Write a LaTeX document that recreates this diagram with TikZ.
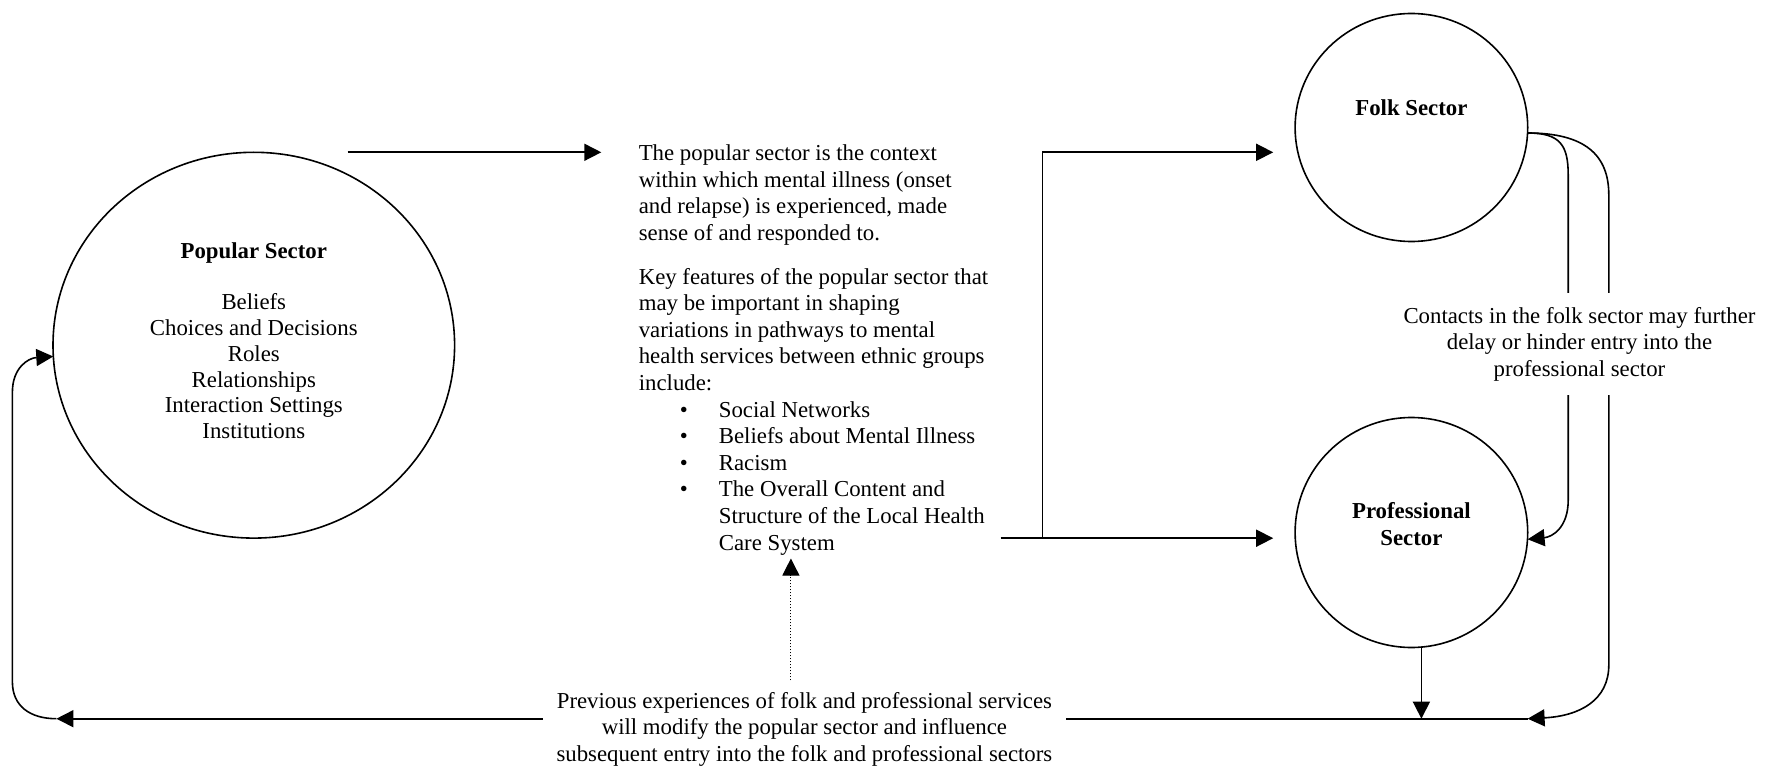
\documentclass[tikz,border=0pt]{standalone}
\usepackage{fontspec}
\setmainfont{Liberation Serif}
\usetikzlibrary{arrows.meta,shapes.geometric}

\newcommand{\bulletitem}{\makebox[80.1pt][l]{\hspace*{41pt}\textbullet}}
\newcommand{\bodysize}{\fontsize{22.8pt}{26.6pt}\selectfont}

\begin{document}
\begin{tikzpicture}[x=1pt,y=-1pt,
  sector/.style={draw, ellipse, line width=1.6pt, inner sep=0pt},
  conn/.style={line width=1.6pt},
  arr/.style={conn, -{Triangle[length=17pt,width=17pt]}},
  txt/.style={font=\bodysize, inner sep=0pt},
  title/.style={font=\bodysize\bfseries, inner sep=0pt, align=center}]

\useasboundingbox (0,0) rectangle (1769,767);
\fill[white] (0,0) rectangle (1769,767);

% the three sectors
\node[sector, minimum width=401.6pt, minimum height=385.8pt] (popular) at (253.8,345.2) {};
\node[sector, minimum width=232.6pt, minimum height=228pt] (folk) at (1411.4,127.5) {};
\node[sector, minimum width=232.6pt, minimum height=230pt] (professional) at (1411.4,532.5) {};

% multi-line texts are placed by the baseline of their last line
\node[txt, font=\fontsize{22.8pt}{25.7pt}\selectfont, align=center, anchor=base] (poptext) at (253.8,438.4)
  {\textbf{Popular Sector}\\[25.9pt]Beliefs\\Choices and Decisions\\Roles\\Relationships\\Interaction Settings\\Institutions};
\node[title, anchor=base] (folktitle) at (1411.4,115.8) {Folk Sector};
\node[title, anchor=base] (proftitle) at (1411.4,545.5) {Professional\\[0.4pt]Sector};

% description of the popular sector
\node[txt, align=left, anchor=base west] (context) at (638.6,550.1)
  {The popular sector is the context\\
   within which mental illness (onset\\
   and relapse) is experienced, made\\
   sense of and responded to.\\[17.3pt]
   Key features of the popular sector that\\
   may be important in shaping\\
   variations in pathways to mental\\
   health services between ethnic groups\\
   include:\\
   \bulletitem Social Networks\\
   \bulletitem Beliefs about Mental Illness\\
   \bulletitem Racism\\
   \bulletitem The Overall Content and\\
   \hspace*{80.1pt}Structure of the Local Health\\
   \hspace*{80.1pt}Care System};

% connector end points
\coordinate (popout) at (347.5,152.3);
\coordinate (ctxin) at (601.3,152.3);
\coordinate (ctxout) at (1000.7,538.2);
\coordinate (branch) at (1042.5,538.2);
\coordinate (folkin) at (1295.2,152.3);
\coordinate (profin) at (1295.2,538.2);
\coordinate (folkout) at (1527.6,133);
\coordinate (joint) at (1527.6,718.7);
\coordinate (loopend) at (56.4,718.7);
\coordinate (profout) at ([xshift=10pt]professional.south);

\draw[arr] (popout) -- (ctxin);
\draw[arr, shorten >=22pt] (ctxout) -- (profin);
\draw[arr, shorten >=22pt] (branch) |- (folkin);

% folk sector routes towards the professional sector and back
\draw[arr] (folkout) .. controls (1560,133) and (1568.2,145) .. (1568.2,175)
  -- (1568.2,500) .. controls (1568.2,528) and (1552,537) .. (1527.6,539.3);
\draw[arr] (folkout) .. controls (1585,133) and (1608.8,155) .. (1608.8,195)
  -- (1608.8,665) .. controls (1608.8,700) and (1580,716) .. (joint);
\draw[arr] (profout) -- (profout |- joint);

% feedback loop into the popular sector
\draw[arr] (joint) -- (loopend);
\draw[arr] (loopend) .. controls (30,718.7) and (12.4,706) .. (12.4,682)
  -- (12.4,392) .. controls (12.4,368) and (28,358) .. (53.3,356.5);

\node[txt, align=center, anchor=base, fill=white, inner xsep=10pt, inner ysep=14pt] (contacts) at (1579.5,376.5)
  {Contacts in the folk sector may further\\delay or hinder entry into the\\professional sector};

\node[txt, align=center, anchor=base, fill=white, inner xsep=14pt, inner ysep=6pt] (previous) at (804.4,761.3)
  {Previous experiences of folk and professional services\\will modify the popular sector and influence\\subsequent entry into the folk and professional sectors};

\coordinate (dotstart) at (790.9,680.3);
\coordinate (dotend) at (790.9,558.5);
\draw[arr, line width=1pt, dotted] (dotstart) -- (dotend);
\end{tikzpicture}
\end{document}
